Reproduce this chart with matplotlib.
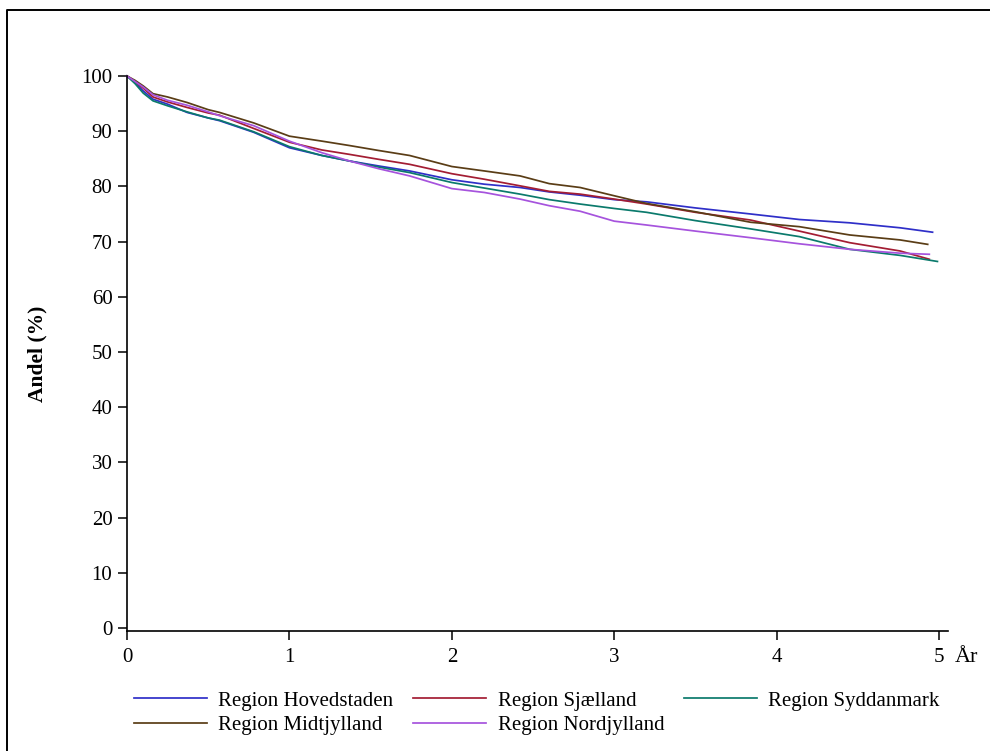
import matplotlib
matplotlib.use("Agg")
import matplotlib.pyplot as plt
from matplotlib.lines import Line2D

plt.rcParams["font.family"] = ["Liberation Serif", "DejaVu Serif"]

# Survival (share still alive, %) by region, read at common time points (years)
years = [0, 0.05, 0.1, 0.16, 0.25, 0.37, 0.5, 0.57, 0.78, 1.0, 1.2, 1.37, 1.55,
         1.74, 2.0, 2.2, 2.42, 2.6, 2.79, 3.0, 3.2, 3.5, 3.84, 4.14, 4.45, 4.76]

hovedstaden = [100, 98.8, 97.3, 95.8, 94.9, 93.4, 92.4, 91.9, 89.8, 87.0, 85.6, 84.6, 83.7,
               82.8, 81.2, 80.4, 79.8, 79.0, 78.4, 77.6, 77.2, 76.1, 75.0, 74.0, 73.4, 72.5]
sjaelland = [100, 99.0, 97.8, 96.2, 95.3, 94.3, 93.3, 92.9, 90.5, 88.0, 86.6, 85.8, 84.9,
             84.0, 82.3, 81.3, 80.1, 79.1, 78.6, 77.7, 76.8, 75.3, 73.9, 71.9, 69.8, 68.3]
syddanmark = [100, 98.6, 96.9, 95.5, 94.6, 93.5, 92.4, 92.0, 89.9, 87.2, 85.6, 84.6, 83.5,
              82.5, 80.7, 79.7, 78.6, 77.6, 76.8, 76.0, 75.3, 73.8, 72.3, 70.9, 68.6, 67.5]
midtjylland = [100, 99.2, 98.2, 96.8, 96.2, 95.2, 93.9, 93.4, 91.5, 89.1, 88.2, 87.4, 86.5,
               85.6, 83.6, 82.8, 81.9, 80.5, 79.8, 78.3, 76.9, 75.4, 73.5, 72.7, 71.2, 70.3]
nordjylland = [100, 99.0, 98.0, 96.6, 95.6, 94.7, 93.5, 92.8, 91.0, 88.2, 86.1, 84.6, 83.2,
               81.9, 79.6, 78.9, 77.7, 76.5, 75.5, 73.7, 73.0, 71.9, 70.7, 69.6, 68.6, 67.9]

# last follow-up time and value for each region
last_year = [4.96, 4.94, 4.99, 4.93, 4.94]
last_value = [71.7, 66.8, 66.4, 69.5, 67.7]

regions = ["Region Hovedstaden", "Region Sjælland", "Region Syddanmark",
           "Region Midtjylland", "Region Nordjylland"]
series = [hovedstaden, sjaelland, syddanmark, midtjylland, nordjylland]
colors = ["#2f2fc8", "#a31d33", "#0b7a6c", "#5a3d16", "#a653dd"]

fig = plt.figure(figsize=(9.9, 7.51), dpi=100)
ax = fig.add_axes([127 / 990, 1 - 631 / 751, (948 - 127) / 990, (631 - 76) / 751])

lines = {}
for name, vals, ly, lv, col in zip(regions, series, last_year, last_value, colors):
    (ln,) = ax.plot(years + [ly], vals + [lv], color=col, lw=1.25, clip_on=False)
    lines[name] = ln

ax.set_xlim(0, 5.055)
ax.set_ylim(-0.55, 100)
ax.set_xticks(range(0, 6))
ax.set_yticks(range(0, 101, 10))
ax.tick_params(direction="out", length=6.5, width=1.1, labelsize=15)
ax.tick_params(axis="y", pad=4)
ax.tick_params(axis="x", pad=6)
for side in ("top", "right"):
    ax.spines[side].set_visible(False)
for side in ("left", "bottom"):
    ax.spines[side].set_linewidth(1.2)
ax.set_ylabel("Andel (%)", fontsize=15.5, fontweight="bold", labelpad=24)
ax.text(955 / 990, 1 - 658 / 751, "År", transform=fig.transFigure,
        fontsize=16, ha="left", va="center")

# legend laid out row by row: three entries on the first line, two on the second
order = ["Region Hovedstaden", "Region Midtjylland", "Region Sjælland",
         "Region Nordjylland", "Region Syddanmark"]
fig.legend([lines[k] for k in order], order, ncol=3, loc="upper left",
           bbox_to_anchor=(134 / 990, 1 - 691 / 751), frameon=False,
           fontsize=15, borderpad=0, handlelength=3.5, handletextpad=0.55,
           columnspacing=0.95, labelspacing=0.25, borderaxespad=0)

# outer frame around the graphic
fig.add_artist(Line2D([7 / 990, 7 / 990, 1], [0, 1 - 9.5 / 751, 1 - 9.5 / 751],
                      transform=fig.transFigure, color="black", lw=1.4))

fig.savefig("out.png", dpi=100, facecolor="white")
